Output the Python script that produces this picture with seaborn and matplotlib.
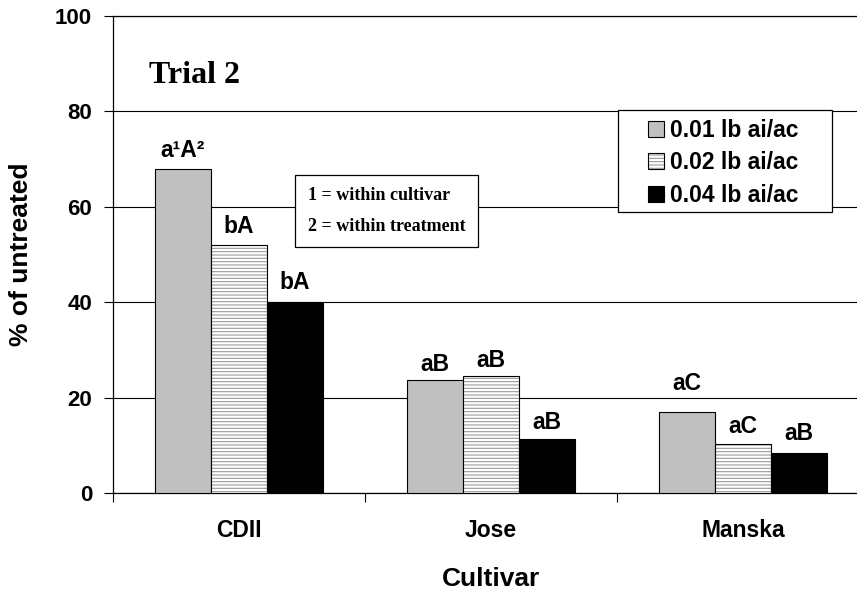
import matplotlib
matplotlib.use("Agg")
import matplotlib.pyplot as plt
import matplotlib.colors as mcolors
from matplotlib.patches import Rectangle
import seaborn as sns
import pandas as pd

# ---- data ----
cultivars = ["CDII", "Jose", "Manska"]
rates = ["0.01 lb ai/ac", "0.02 lb ai/ac", "0.04 lb ai/ac"]
v001 = [68.0, 23.7, 17.0]
v002 = [52.0, 24.5, 10.3]
v004 = [40.0, 11.3, 8.4]
# significance letters
l001 = ["a\u00b9A\u00b2", "aB", "aC"]
l002 = ["bA", "aB", "aC"]
l004 = ["bA", "aB", "aB"]
# heights (data units) where each letter label sits
y001 = [70.4, 25.6, 21.6]
y002 = [54.5, 26.4, 12.6]
y004 = [42.8, 13.4, 11.1]
yticks = [0, 20, 40, 60, 80, 100]
title_text = "Trial 2"
note_text = "1 = within cultivar\n\n2 = within treatment"

df = pd.DataFrame({
    "Cultivar": cultivars * 3,
    "rate": [rates[0]] * 3 + [rates[1]] * 3 + [rates[2]] * 3,
    "value": v001 + v002 + v004,
})

sns.set_theme(style="white")
plt.rcParams["font.family"] = ["Liberation Sans", "DejaVu Sans"]
plt.rcParams["font.weight"] = "bold"
plt.rcParams["hatch.linewidth"] = 0.8
plt.rcParams["text.color"] = "black"
plt.rcParams["axes.labelcolor"] = "black"
plt.rcParams["xtick.color"] = "black"
plt.rcParams["ytick.color"] = "black"

W, H = 857, 590
fig = plt.figure(figsize=(W / 100, H / 100), dpi=100)
ax = fig.add_axes([113 / W, 97 / H, 756 / W, 477 / H])

colors = ["#C0C0C0", "#FFFFFF", "#000000"]
sns.barplot(data=df, x="Cultivar", y="value", hue="rate", order=cultivars,
            hue_order=rates, palette=colors, width=0.667, saturation=1,
            edgecolor="black", linewidth=0.8, legend=False, ax=ax, zorder=3)

# hatch for middle series
for p in ax.containers[1].patches:
    p.set_hatch("-----")
    p._hatch_color = mcolors.to_rgba("#9a9a9a")

# letters
labels = [l001, l002, l004]
heights = [y001, y002, y004]
for cont, labs, hs in zip(ax.containers, labels, heights):
    for p, lab, h in zip(cont.patches, labs, hs):
        ax.text(p.get_x() + p.get_width() / 2, h, lab, ha="center", va="baseline",
                fontsize=16.5, fontweight="bold", color="black", zorder=5)

ax.set_xlim(-0.5, 2.5)
ax.set_ylim(0, 100)
ax.set_yticks(yticks)
ax.set_yticklabels([str(t) for t in yticks], fontsize=16, fontweight="bold")
ax.set_xticks(range(len(cultivars)))
ax.set_xticklabels(cultivars, fontsize=16.5, fontweight="bold")
ax.set_xticks([-0.5, 0.5, 1.5, 2.5], minor=True)
ax.tick_params(axis="x", which="major", length=0, pad=19, colors="black")
ax.tick_params(axis="x", which="minor", length=6.5, width=0.8, direction="out",
               color="black", bottom=True)
ax.tick_params(axis="y", which="major", length=6.5, width=0.8, direction="out",
               pad=8.5, left=True, colors="black")

ax.grid(axis="y", color="black", linewidth=0.8)
ax.grid(axis="x", visible=False)
ax.set_axisbelow(True)
for s in ["left", "bottom", "top"]:
    ax.spines[s].set_visible(True)
    ax.spines[s].set_color("black")
    ax.spines[s].set_linewidth(0.9)
ax.spines["right"].set_visible(False)

ax.set_ylabel("% of untreated", fontsize=19, fontweight="bold", labelpad=16, color="black")
ax.set_xlabel("Cultivar", fontsize=19, fontweight="bold", labelpad=18, color="black")

# title inside plot
fig.text(149 / W, 1 - 83 / H, title_text, fontsize=23, fontweight="bold",
         family=["Liberation Serif", "DejaVu Serif"], ha="left", va="baseline",
         color="black")

# note box
fig.text(308 / W, 1 - 211 / H, note_text, fontsize=13, fontweight="bold",
         family=["Liberation Serif", "DejaVu Serif"], ha="left", va="center",
         linespacing=0.85, zorder=6, color="black",
         bbox=dict(boxstyle="square,pad=0.7", fc="white", ec="black", lw=0.9))

# legend box
fig.patches.append(Rectangle((618 / W, 1 - 212 / H), 214 / W, 102 / H,
                             transform=fig.transFigure, fc="white", ec="black",
                             lw=0.9, zorder=4))
handles = [cont.patches[0] for cont in ax.containers]
leg = fig.legend(handles, rates, loc="upper left",
                 bbox_to_anchor=(630 / W, 1 - 101 / H), frameon=False,
                 prop={"family": "Liberation Sans", "weight": "bold", "size": 16.5},
                 handlelength=0.7, handleheight=0.7, handletextpad=0.25,
                 labelspacing=0.4, borderpad=0.3)
for t in leg.get_texts():
    t.set_color("black")
leg.set_zorder(7)

fig.savefig("out.png", dpi=100)
